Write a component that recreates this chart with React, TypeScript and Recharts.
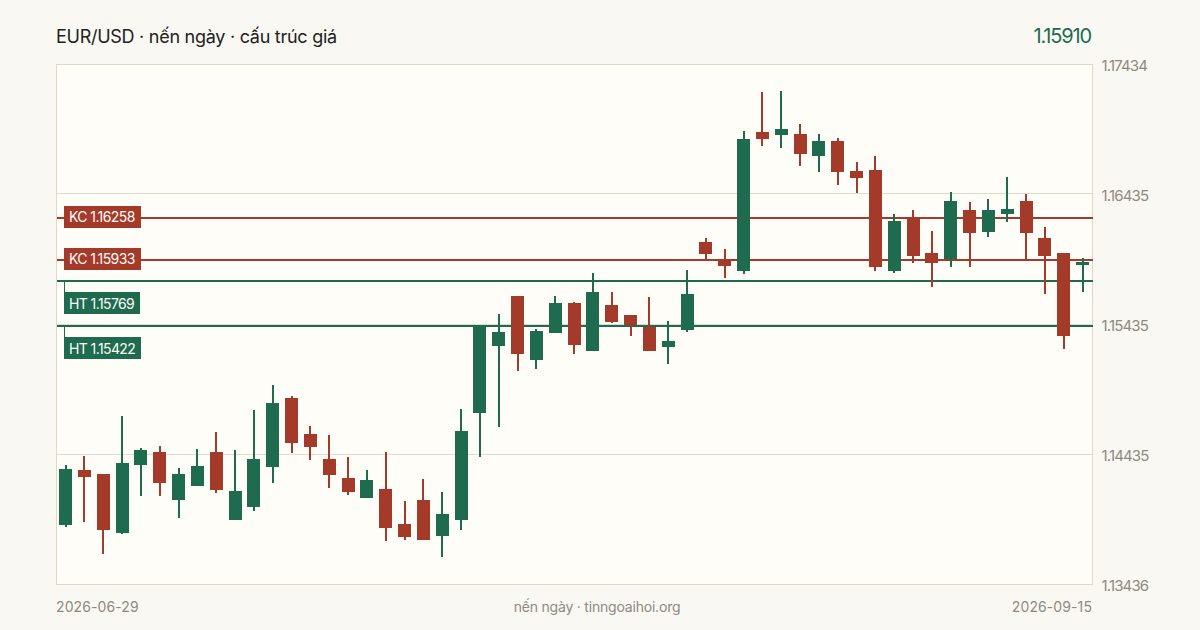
import { Bar, ComposedChart, ReferenceArea, ReferenceLine, XAxis, YAxis } from "recharts";

const opens = [1.13894, 1.14316, 1.14286, 1.13832, 1.14355, 1.14455, 1.14086, 1.14193, 1.14455, 1.13932, 1.14032, 1.14339, 1.1487, 1.14593, 1.14401, 1.14255, 1.14101, 1.1417, 1.13901, 1.14086, 1.13809, 1.13932, 1.14755, 1.1527, 1.15654, 1.15162, 1.1537, 1.156, 1.15231, 1.15585, 1.15508, 1.15416, 1.15262, 1.15393, 1.16069, 1.15931, 1.15846, 1.16915, 1.16892, 1.169, 1.16731, 1.16846, 1.16615, 1.16623, 1.15846, 1.16262, 1.15985, 1.15939, 1.16315, 1.16146, 1.16285, 1.16385, 1.161, 1.15985, 1.15893];
const highs = [1.14355, 1.14424, 1.14286, 1.14732, 1.14486, 1.14501, 1.14332, 1.14478, 1.14609, 1.1447, 1.14778, 1.1497, 1.14885, 1.14655, 1.14585, 1.14416, 1.14316, 1.14455, 1.14078, 1.14247, 1.14147, 1.14785, 1.15431, 1.15516, 1.15654, 1.154, 1.15654, 1.15608, 1.15831, 1.15685, 1.15508, 1.15646, 1.15462, 1.15854, 1.161, 1.16016, 1.16923, 1.17223, 1.1723, 1.16977, 1.169, 1.16869, 1.16684, 1.16731, 1.16285, 1.16315, 1.16154, 1.16454, 1.16377, 1.164, 1.16569, 1.16438, 1.16185, 1.15985, 1.15946];
const lows = [1.13878, 1.13917, 1.13671, 1.13824, 1.14116, 1.14116, 1.13947, 1.14193, 1.1414, 1.13932, 1.14001, 1.14216, 1.14447, 1.14393, 1.14178, 1.14124, 1.14101, 1.1377, 1.13778, 1.13778, 1.13647, 1.13855, 1.14416, 1.14647, 1.15078, 1.15093, 1.1537, 1.15208, 1.15231, 1.15447, 1.15347, 1.15231, 1.15131, 1.15377, 1.15931, 1.15793, 1.15823, 1.16807, 1.16792, 1.16654, 1.16608, 1.16508, 1.16446, 1.15846, 1.15831, 1.15908, 1.15723, 1.15877, 1.15877, 1.16108, 1.16223, 1.15939, 1.1567, 1.15247, 1.15685];
const closes = [1.14324, 1.14263, 1.13855, 1.1437, 1.1447, 1.14216, 1.14286, 1.14347, 1.14163, 1.14155, 1.14401, 1.14832, 1.14524, 1.14493, 1.14278, 1.14147, 1.14239, 1.1387, 1.13801, 1.13778, 1.13978, 1.14616, 1.15431, 1.15377, 1.15208, 1.15385, 1.156, 1.15277, 1.15685, 1.15454, 1.15431, 1.15231, 1.15308, 1.1567, 1.15977, 1.15885, 1.16861, 1.16861, 1.16938, 1.16746, 1.16846, 1.16608, 1.16561, 1.15877, 1.16231, 1.15962, 1.15908, 1.16385, 1.16139, 1.16315, 1.16323, 1.16139, 1.15962, 1.15347, 1.15916];

const priceTicks = [1.13436, 1.14435, 1.15435, 1.16435, 1.17434];
const gridLevels = [1.14435, 1.15435, 1.16442];
const resistance = [1.16258, 1.15933];
const support = [1.15769, 1.15422];

const UP = "#1E6B50";
const DOWN = "#A33A2A";
const FONT = "Inter, sans-serif";

const rows = opens.map((open, i) => ({
  day: i,
  open,
  close: closes[i],
  wick: [lows[i], highs[i]],
  body: [Math.min(open, closes[i]), Math.max(open, closes[i])],
}));

// snap to whole pixels, the picture has no soft edges on the candles
const CandlePart = (props: any) => {
  const top = Math.round(props.y);
  const bottom = Math.round(props.y + props.height);
  const left = props.width > 2 ? Math.floor(props.x) : Math.round(props.x);
  return (
    <rect
      x={left}
      y={top}
      width={props.width}
      height={bottom - top}
      fill={props.payload.close >= props.payload.open ? UP : DOWN}
      shapeRendering="crispEdges"
    />
  );
};

// the axis sits on the right, so x1 and x2 arrive swapped
const LevelLine = ({ x1, x2, y1, stroke }: any) => {
  const y = Math.round(y1 + 0.1);
  return <rect x={Math.min(x1, x2)} y={y - 1} width={Math.abs(x2 - x1)} height={2} fill={stroke} shapeRendering="crispEdges" />;
};

const GridLine = ({ x1, x2, y1, stroke }: any) => (
  <rect x={Math.min(x1, x2)} y={Math.floor(y1)} width={Math.abs(x2 - x1)} height={1} fill={stroke} shapeRendering="crispEdges" />
);

const LevelTag = ({ viewBox, text, color, below, boxWidth }: any) => {
  const lineY = viewBox.y;
  const top = Math.floor(below ? lineY + 11 : lineY - 11);
  const left = viewBox.x + 7.5;
  return (
    <g>
      {below && <rect x={left} y={lineY} width={1} height={top - lineY} fill={color} shapeRendering="crispEdges" />}
      <rect x={left} y={top} width={boxWidth} height={22} fill={color} shapeRendering="crispEdges" />
      <text x={left + 5} y={top + (below ? 17 : 16)} fill="#FFFDF8" fontSize={14} letterSpacing={-0.6} fontFamily={FONT}>
        {text}
      </text>
    </g>
  );
};

export default function App() {
  return (
    <div style={{ position: "absolute", left: 0, top: 0, width: 1200, height: 630, background: "#F9F8F3", fontFamily: FONT }}>
      <div style={{ position: "absolute", left: 56, top: 26, fontSize: 18, lineHeight: "22px", letterSpacing: -0.27, color: "#222220" }}>
        EUR/USD · nến ngày · cấu trúc giá
      </div>
      <div style={{ position: "absolute", right: 109, top: 24, fontSize: 20, lineHeight: "24px", letterSpacing: -1.15, color: UP }}>1.15910</div>
      <ComposedChart
        width={1200}
        height={630}
        data={rows}
        margin={{ top: 64.5, right: 0, bottom: 45.5, left: 56.5 }}
      >
        <XAxis dataKey="day" xAxisId="wicks" type="category" hide />
        <XAxis dataKey="day" xAxisId="bodies" type="category" hide />
        <YAxis
          orientation="right"
          type="number"
          domain={[priceTicks[0], priceTicks[4]]}
          ticks={priceTicks}
          interval={0}
          axisLine={false}
          tickLine={false}
          tickSize={0}
          tickMargin={9}
          width={107.5}
          tickFormatter={(v: number) => v.toFixed(5)}
          tick={{ fontSize: 15, fill: "#8F8A80", fontFamily: FONT, letterSpacing: -0.85, dy: 1 }}
        />
        <ReferenceArea
          xAxisId="wicks"
          y1={priceTicks[0]}
          y2={priceTicks[4]}
          fill="#FFFDF8"
          fillOpacity={1}
          stroke="#DDD9C8"
          strokeWidth={1}
          shapeRendering="crispEdges"
          zIndex={-200}
        />
        {gridLevels.map((level) => (
          <ReferenceLine key={level} xAxisId="wicks" y={level} stroke="#DEDCCD" shape={GridLine} zIndex={-150} />
        ))}
        {resistance.map((level) => (
          <ReferenceLine
            key={level}
            xAxisId="wicks"
            y={level}
            stroke={DOWN}
            shape={LevelLine}
            zIndex={-100}
            label={<LevelTag text={`KC ${level.toFixed(5)}`} color={DOWN} boxWidth={77} />}
          />
        ))}
        {support.map((level, i) => (
          <ReferenceLine
            key={level}
            xAxisId="wicks"
            y={level}
            stroke={UP}
            shape={LevelLine}
            zIndex={-100}
            label={<LevelTag text={`HT ${level.toFixed(5)}`} color={UP} below boxWidth={i === 0 ? 76 : 77} />}
          />
        ))}
        <Bar xAxisId="wicks" dataKey="wick" barSize={2} shape={CandlePart} isAnimationActive={false} />
        <Bar xAxisId="bodies" dataKey="body" barSize={13} shape={CandlePart} isAnimationActive={false} />
      </ComposedChart>
      <div style={{ position: "absolute", left: 56, top: 598, fontSize: 14, lineHeight: "18px", letterSpacing: 0.1, color: "#8F8A80" }}>2026-06-29</div>
      <div style={{ position: "absolute", left: 56, width: 1082, top: 598, textAlign: "center", fontSize: 14, lineHeight: "18px", letterSpacing: -0.2, color: "#8F8A80" }}>
        nến ngày · tinngoaihoi.org
      </div>
      <div style={{ position: "absolute", right: 108, top: 598, fontSize: 14, lineHeight: "18px", letterSpacing: 0.1, color: "#8F8A80" }}>2026-09-15</div>
    </div>
  );
}
